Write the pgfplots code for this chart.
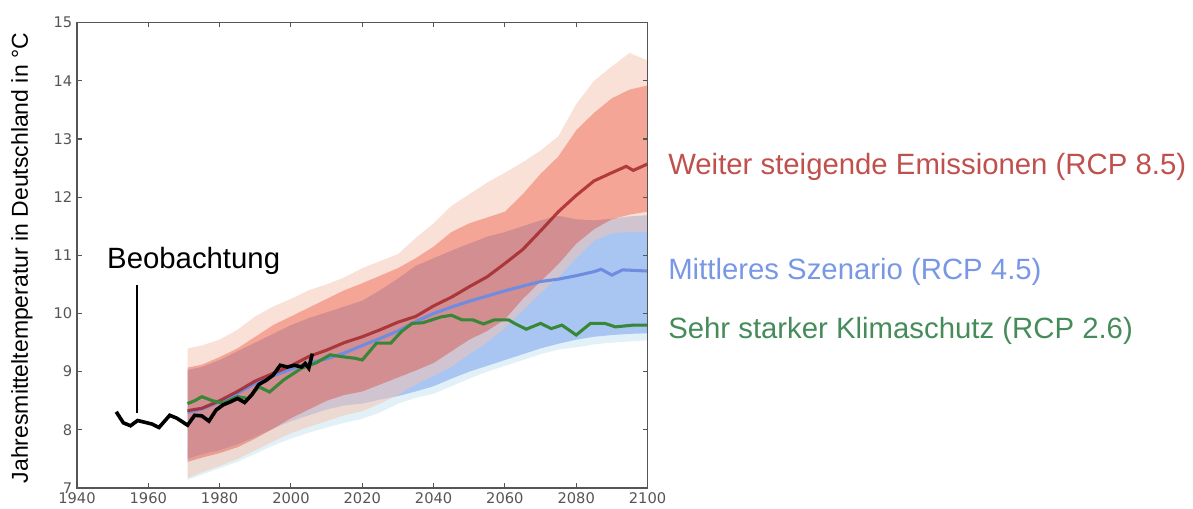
\documentclass[border=0pt]{standalone}
\usepackage{fontspec}
\setmainfont{Liberation Sans}
\newfontfamily\dejavu{DejaVu Sans}
\usepackage{pgfplots}
\pgfplotsset{compat=1.18}
\usepgfplotslibrary{fillbetween}
\usepackage{pgfplotstable}

\definecolor{peach}{RGB}{245,195,175}
\definecolor{salmonc}{RGB}{238,105,80}
\definecolor{bandblue}{RGB}{169,198,242}
\definecolor{bandcyan}{RGB}{225,241,247}
\definecolor{redline}{RGB}{165,40,45}
\definecolor{blueline}{RGB}{110,140,225}
\definecolor{greenline}{RGB}{55,135,55}
\definecolor{redtxt}{RGB}{192,80,77}
\definecolor{bluetxt}{RGB}{120,152,230}
\definecolor{greentxt}{RGB}{70,140,90}
\definecolor{axgray}{RGB}{85,85,85}

\pgfplotstableread{
year Gl Gu Bl Bu Rol Ril Riu Rou
1971 7.14 7.80 7.50 9.03 7.17 7.45 9.07 9.40
1975 7.23 7.88 7.58 9.08 7.27 7.52 9.12 9.45
1980 7.34 7.95 7.65 9.20 7.38 7.60 9.25 9.55
1985 7.45 8.05 7.75 9.35 7.50 7.70 9.40 9.72
1990 7.59 8.18 7.88 9.50 7.65 7.85 9.60 9.95
1995 7.73 8.32 8.02 9.65 7.80 8.02 9.80 10.12
2000 7.85 8.45 8.15 9.80 7.94 8.20 9.95 10.25
2005 7.95 8.55 8.25 9.92 8.05 8.35 10.10 10.40
2010 8.04 8.65 8.35 10.02 8.15 8.50 10.25 10.50
2015 8.12 8.72 8.42 10.12 8.25 8.60 10.40 10.62
2020 8.19 8.75 8.45 10.22 8.32 8.66 10.52 10.78
2025 8.30 8.82 8.52 10.40 8.45 8.78 10.65 10.90
2030 8.45 8.90 8.58 10.60 8.60 8.90 10.78 11.02
2035 8.55 8.98 8.66 10.82 8.78 9.02 10.95 11.30
2040 8.62 9.05 8.75 10.95 8.93 9.15 11.15 11.55
2045 8.75 9.18 8.88 11.08 9.08 9.35 11.40 11.85
2050 8.88 9.30 9.00 11.20 9.30 9.55 11.55 12.05
2055 9.00 9.40 9.10 11.32 9.50 9.70 11.65 12.25
2060 9.10 9.50 9.20 11.40 9.75 9.90 11.75 12.42
2065 9.20 9.60 9.30 11.50 10.05 10.25 12.05 12.60
2070 9.30 9.70 9.40 11.60 10.35 10.55 12.40 12.80
2075 9.38 9.78 9.48 11.68 10.62 10.85 12.70 13.05
2080 9.42 9.85 9.55 11.62 10.95 11.20 13.15 13.60
2085 9.47 9.90 9.60 11.60 11.25 11.45 13.45 14.00
2090 9.50 9.93 9.63 11.63 11.38 11.62 13.70 14.25
2095 9.52 9.95 9.65 11.67 11.40 11.70 13.85 14.48
2100 9.54 9.96 9.66 11.69 11.40 11.75 13.92 14.35
}\bands

\pgfplotstableread{
year t
1971 8.33
1975 8.37
1980 8.50
1985 8.66
1990 8.84
1995 8.97
2000 9.10
2005 9.26
2010 9.37
2015 9.50
2020 9.60
2025 9.72
2030 9.85
2035 9.95
2040 10.13
2045 10.28
2050 10.46
2055 10.63
2060 10.86
2065 11.10
2070 11.42
2075 11.75
2080 12.03
2085 12.28
2090 12.42
2094 12.53
2096 12.46
2100 12.57
}\rcpHigh

\pgfplotstableread{
year t
1971 8.30
1975 8.36
1980 8.48
1985 8.63
1990 8.80
1995 8.93
2000 9.04
2005 9.15
2010 9.22
2015 9.32
2020 9.45
2025 9.57
2030 9.70
2035 9.86
2040 10.00
2045 10.11
2050 10.21
2055 10.30
2060 10.39
2065 10.47
2070 10.55
2075 10.59
2080 10.65
2085 10.72
2087 10.76
2090 10.66
2093 10.75
2100 10.73
}\rcpMid

\pgfplotstableread{
year t
1971 8.45
1973 8.50
1975 8.57
1978 8.50
1981 8.46
1985 8.57
1988 8.54
1991 8.74
1994 8.65
1998 8.86
2003 9.06
2007 9.15
2011 9.29
2014 9.26
2018 9.23
2020 9.20
2024 9.49
2028 9.49
2031 9.69
2034 9.83
2037 9.84
2042 9.94
2045 9.97
2048 9.89
2051 9.89
2054 9.82
2057 9.89
2061 9.89
2063 9.82
2066 9.73
2070 9.83
2073 9.74
2076 9.80
2080 9.63
2084 9.83
2088 9.83
2091 9.77
2096 9.80
2100 9.80
}\rcpLow

\pgfplotstableread{
year t
1951 8.31
1953 8.12
1955 8.07
1957 8.16
1959 8.13
1961 8.10
1963 8.04
1966 8.25
1968 8.20
1971 8.08
1973 8.25
1975 8.24
1977 8.15
1979 8.34
1981 8.43
1983 8.48
1985 8.54
1987 8.47
1989 8.60
1991 8.78
1993 8.85
1995 8.94
1997 9.11
1999 9.08
2001 9.11
2003 9.08
2004 9.14
2005 9.06
2006 9.31
}\obs

\begin{document}
\begin{tikzpicture}
\begin{axis}[
  at={(57.75pt,15.75pt)}, anchor=south west,
  scale only axis, width=427.9pt, height=349pt,
  xmin=1940, xmax=2100, ymin=7, ymax=15,
  xtick={1940,1960,...,2100}, ytick={7,8,...,15},
  tick align=inside, major tick length=3.5pt,
  axis line style={axgray, line width=1.2pt},
  every tick/.style={axgray, line width=0.8pt},
  /pgf/number format/assume math mode=true,
  xticklabel style={/pgf/number format/1000 sep={}},
  tick label style={font=\dejavu\fontsize{11}{11}\selectfont, text=axgray},
  axis on top,
]
% RCP2.6 range (light cyan)
\addplot[draw=none, name path=gl] table[x=year,y=Gl]{\bands};
\addplot[draw=none, name path=gu] table[x=year,y=Gu]{\bands};
\addplot[fill=bandcyan, draw=none] fill between[of=gl and gu];
% RCP4.5 range (blue)
\addplot[draw=none, name path=bl] table[x=year,y=Bl]{\bands};
\addplot[draw=none, name path=bu] table[x=year,y=Bu]{\bands};
\addplot[fill=bandblue, draw=none] fill between[of=bl and bu];
% RCP8.5 ranges
\addplot[draw=none, name path=rol] table[x=year,y=Rol]{\bands};
\addplot[draw=none, name path=ril] table[x=year,y=Ril]{\bands};
\addplot[draw=none, name path=riu] table[x=year,y=Riu]{\bands};
\addplot[draw=none, name path=rou] table[x=year,y=Rou]{\bands};
\addplot[fill=peach, fill opacity=0.5, draw=none] fill between[of=rol and ril];
\addplot[fill=peach, fill opacity=0.5, draw=none] fill between[of=riu and rou];
\addplot[fill=salmonc, fill opacity=0.6, draw=none] fill between[of=ril and riu];
% medians
\addplot[blueline, line width=2.3pt] table[x=year,y=t]{\rcpMid};
\addplot[redline, line width=2.3pt, opacity=0.85] table[x=year,y=t]{\rcpHigh};
\addplot[greenline, line width=2.3pt] table[x=year,y=t]{\rcpLow};
\addplot[black, line width=2.7pt] table[x=year,y=t]{\obs};
% annotation
\draw[black, line width=1.5pt] (axis cs:1956.8,8.29) -- (axis cs:1956.8,10.49);
\node[anchor=base west, inner sep=0, font=\fontsize{22}{26}\selectfont] at (axis cs:1948.4,10.78) {Beobachtung};
\end{axis}
\node[rotate=90, font=\fontsize{17.25}{20}\selectfont] at (16.5pt,188.25pt) {Jahresmitteltemperatur in Deutschland in °C};
\node[anchor=base west, inner sep=0, text=redtxt, font=\fontsize{22}{26}\selectfont] at (501pt,250.5pt) {Weiter steigende Emissionen (RCP 8.5)};
\node[anchor=base west, inner sep=0, text=bluetxt, font=\fontsize{22}{26}\selectfont] at (501pt,171.75pt) {Mittleres Szenario (RCP 4.5)};
\node[anchor=base west, inner sep=0, text=greentxt, font=\fontsize{22}{26}\selectfont] at (501pt,128pt) {Sehr starker Klimaschutz (RCP 2.6)};
\pgfresetboundingbox
\path[use as bounding box] (0,0) rectangle (894.75pt,381.75pt);
\end{tikzpicture}
\end{document}
